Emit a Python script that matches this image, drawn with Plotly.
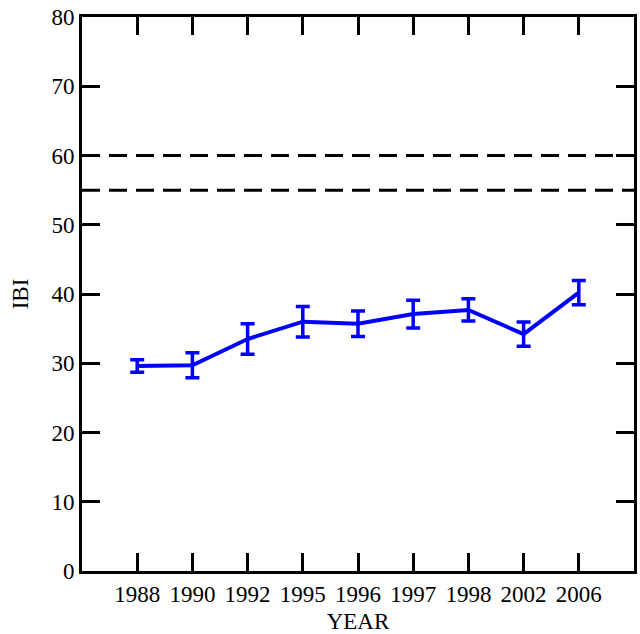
import plotly.graph_objects as go

# IBI by sampling year, with error bars
years = ["1988", "1990", "1992", "1995", "1996", "1997", "1998", "2002", "2006"]
ibi = [29.6, 29.7, 33.5, 36.0, 35.7, 37.1, 37.7, 34.2, 40.2]
ibi_err = [0.9, 1.8, 2.2, 2.2, 1.85, 2.0, 1.6, 1.75, 1.75]

# reference thresholds
thresholds = [60, 55]

positions = list(range(1, len(years) + 1))
x_span = [0, len(years) + 1]

FONT = "Liberation Serif, Times New Roman, serif"

fig = go.Figure()

for level in thresholds:
    fig.add_trace(go.Scatter(
        x=x_span, y=[level, level], mode="lines",
        line=dict(color="black", width=3, dash="18px,9px"),
        hoverinfo="skip", showlegend=False,
    ))

fig.add_trace(go.Scatter(
    x=positions, y=ibi, mode="lines",
    line=dict(color="#0000ff", width=4),
    error_y=dict(type="data", array=ibi_err, visible=True,
                 color="#0000ff", thickness=3.5, width=7),
    showlegend=False,
))

axis_common = dict(
    showline=True, linecolor="black", linewidth=3, mirror="ticks",
    ticks="inside", ticklen=18, tickwidth=3, tickcolor="black",
    showgrid=False, zeroline=False, automargin=False,
    tickfont=dict(family=FONT, size=23, color="black"),
)

fig.update_xaxes(
    range=x_span, tickmode="array", tickvals=positions, ticktext=years,
    title=dict(text="YEAR", font=dict(family=FONT, size=23, color="black"), standoff=8),
    **axis_common,
)
fig.update_yaxes(
    range=[0, 80], tickmode="linear", tick0=0, dtick=10,
    title=dict(text="IBI", font=dict(family=FONT, size=23, color="black"), standoff=17),
    **axis_common,
)

fig.update_layout(
    width=640, height=634,
    margin=dict(l=82, r=6, t=17, b=63),
    plot_bgcolor="white", paper_bgcolor="white",
    font=dict(family=FONT, size=23, color="black"),
)

fig.write_html("out.html")
